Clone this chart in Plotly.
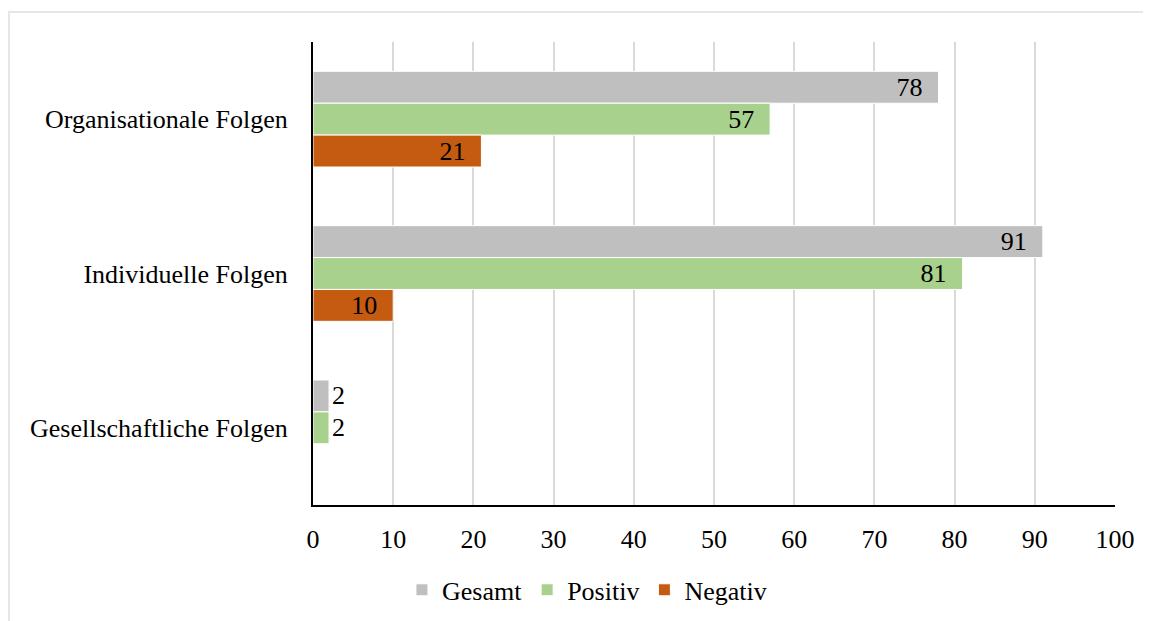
import plotly.graph_objects as go

categories = ["Organisationale Folgen", "Individuelle Folgen", "Gesellschaftliche Folgen"]
gesamt = [78, 91, 2]
positiv = [57, 81, 2]
negativ = [21, 10, 0]
series_names = ["Gesamt", "Positiv", "Negativ"]
colors = ["#BFBFBF", "#A9D18E", "#C55A11"]
x_ticks = [0, 10, 20, 30, 40, 50, 60, 70, 80, 90, 100]

FONT = "Liberation Serif"
FS = 26

fig = go.Figure()
for name, vals, col in zip(series_names, [gesamt, positiv, negativ], colors):
    fig.add_trace(go.Bar(
        name=name, y=categories, x=vals, orientation="h",
        marker=dict(color=col, line=dict(color="white", width=1)),
        text=[f"{v}\u2002" if v else "" for v in vals],
        textposition="auto", insidetextanchor="end", textangle=0,
        constraintext="none",
        textfont=dict(family=FONT, size=FS, color="black"),
        cliponaxis=False,
    ))

W, H = 1151, 621
L, R, T, B = 305, 44, 34, 124
pw = W - L - R
ph = H - T - B

fig.update_layout(
    width=W, height=H,
    margin=dict(l=L, r=R, t=T, b=B),
    barmode="group", bargap=0.38, bargroupgap=0,
    plot_bgcolor="white", paper_bgcolor="white",
    font=dict(family=FONT, size=FS, color="black"),
    showlegend=True,
    legend=dict(orientation="h", xref="container", yref="container",
                x=0.503, y=0.063, xanchor="center", yanchor="middle",
                font=dict(family=FONT, size=FS, color="black"),
                itemwidth=30, tracegroupgap=0),
    xaxis=dict(range=[0, 100], tickvals=x_ticks, showgrid=True,
               gridcolor="#D9D9D9", gridwidth=2, zeroline=False,
               showline=True, linecolor="black", linewidth=2,
               ticks="", ticklabelstandoff=10,
               tickfont=dict(family=FONT, size=FS, color="black")),
    yaxis=dict(categoryorder="array", categoryarray=categories,
               autorange="reversed", showgrid=False, zeroline=False,
               showline=True, linecolor="black", linewidth=2,
               ticks="", ticklabelstandoff=18,
               tickfont=dict(family=FONT, size=FS, color="black")),
    shapes=[
        dict(type="line", xref="paper", yref="paper",
             x0=(0 - L) / pw, x1=(W - L + 20) / pw,
             y0=(H - B - 4) / ph, y1=(H - B - 4) / ph,
             line=dict(color="#E6E6E6", width=2)),
        dict(type="line", xref="paper", yref="paper",
             x0=(1 - L) / pw, x1=(1 - L) / pw,
             y0=(H - B - 4) / ph, y1=-(B + 20) / ph,
             line=dict(color="#E6E6E6", width=2)),
    ],
)

fig.write_html("out.html")
